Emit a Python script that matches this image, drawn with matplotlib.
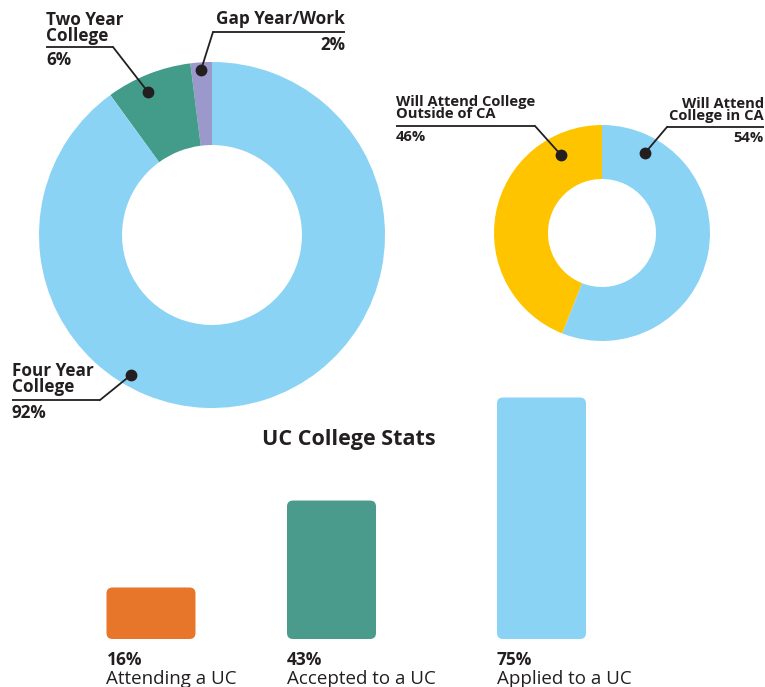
import matplotlib
matplotlib.use("Agg")
import matplotlib.pyplot as plt
from matplotlib.patches import FancyBboxPatch

plt.rcParams['font.family'] = ['Open Sans', 'DejaVu Sans']

# data (wedge sizes as drawn, printed labels as shown)
plan_labels = ["Gap Year/Work", "Two Year\nCollege", "Four Year\nCollege"]
plan_values = [2, 8, 90]
plan_pct_text = ["2%", "6%", "92%"]
plan_colors = ["#9B98CC", "#439C89", "#8AD3F4"]

ca_labels = ["Will Attend College\nOutside of CA", "Will Attend\nCollege in CA"]
ca_values = [44, 56]
ca_pct_text = ["46%", "54%"]
ca_colors = ["#FFC400", "#8AD3F4"]

uc_labels = ["Attending a UC", "Accepted to a UC", "Applied to a UC"]
uc_values = [16, 43, 75]
uc_colors = ["#E8762A", "#4A9B8C", "#8AD3F4"]

W, H = 765, 687
DARK = "#231F20"
fig = plt.figure(figsize=(W / 100, H / 100), dpi=100)


def px_axes(left, top, width, height):
    return fig.add_axes([left / W, 1 - (top + height) / H, width / W, height / H])


# big donut
ax1 = px_axes(39, 62, 346, 346)
ax1.pie(plan_values, colors=plan_colors, startangle=90, counterclock=True,
        radius=1, wedgeprops=dict(width=0.48, edgecolor="none"))
ax1.set_xlim(-1, 1)
ax1.set_ylim(-1, 1)
ax1.axis("off")

# small donut
ax2 = px_axes(494, 125, 216, 216)
ax2.pie(ca_values, colors=ca_colors, startangle=90, counterclock=True,
        radius=1, wedgeprops=dict(width=0.5, edgecolor="none"))
ax2.set_xlim(-1, 1)
ax2.set_ylim(-1, 1)
ax2.axis("off")

# bars
px_per_pct = 3.22
ax3 = px_axes(0, 389, W, 250)
ax3.set_xlim(0, W)
ax3.set_ylim(0, 250 / px_per_pct)
bar_x = [151, 331.5, 541.5]
bars = ax3.bar(bar_x, uc_values, width=89, color=uc_colors)
for b in bars:
    b.set_visible(False)
    p = FancyBboxPatch((b.get_x(), b.get_y()), b.get_width(), b.get_height(),
                       boxstyle="round,pad=0,rounding_size=6",
                       mutation_aspect=1 / px_per_pct,
                       facecolor=b.get_facecolor(), edgecolor="none")
    ax3.add_patch(p)
ax3.axis("off")

# annotation overlay in pixel coords
ov = fig.add_axes([0, 0, 1, 1], zorder=10)
ov.set_xlim(0, W)
ov.set_ylim(H, 0)
ov.axis("off")
ov.patch.set_alpha(0)


def callout(text, pct, tx, ty, ux0, ux1, uy, elbow, dot, ha="left", size=12.3):
    ov.text(tx, ty, text, ha=ha, va="top", fontsize=size, fontweight="bold",
            color=DARK, linespacing=0.85)
    ov.text(tx, uy + 4, pct, ha=ha, va="top", fontsize=size, fontweight="bold",
            color=DARK)
    ov.plot([ux0, ux1], [uy, uy], color=DARK, lw=1.3, solid_capstyle="butt")
    ov.plot([elbow[0], dot[0]], [elbow[1], dot[1]], color=DARK, lw=1.3)
    ov.plot(dot[0], dot[1], "o", color=DARK, ms=7.5)


callout(plan_labels[1], plan_pct_text[1], 46, 11, 46, 113, 47, (113, 47), (148, 92))
callout(plan_labels[0], plan_pct_text[0], 345, 10, 213, 345, 32, (213, 32), (201, 70), ha="right")
callout(plan_labels[2], plan_pct_text[2], 12, 362, 12, 100, 400, (100, 400), (131, 375))
callout(ca_labels[0], ca_pct_text[0], 396, 95, 396, 535, 126, (535, 126), (561, 155), size=10.6)
callout(ca_labels[1], ca_pct_text[1], 764, 97, 667, 764, 127, (667, 127), (645, 153), ha="right", size=10.6)

ov.text(349, 440, "UC College Stats", ha="center", va="center", fontsize=15.5,
        fontweight="bold", color=DARK)

for x, v, lab in zip(bar_x, uc_values, uc_labels):
    ov.text(x - 44.5, 651, f"{v}%", ha="left", va="top", fontsize=12.5,
            fontweight="bold", color=DARK)
    ov.text(x - 44.5, 670, lab, ha="left", va="top", fontsize=13.5, color=DARK)

fig.savefig("out.png", dpi=100)
